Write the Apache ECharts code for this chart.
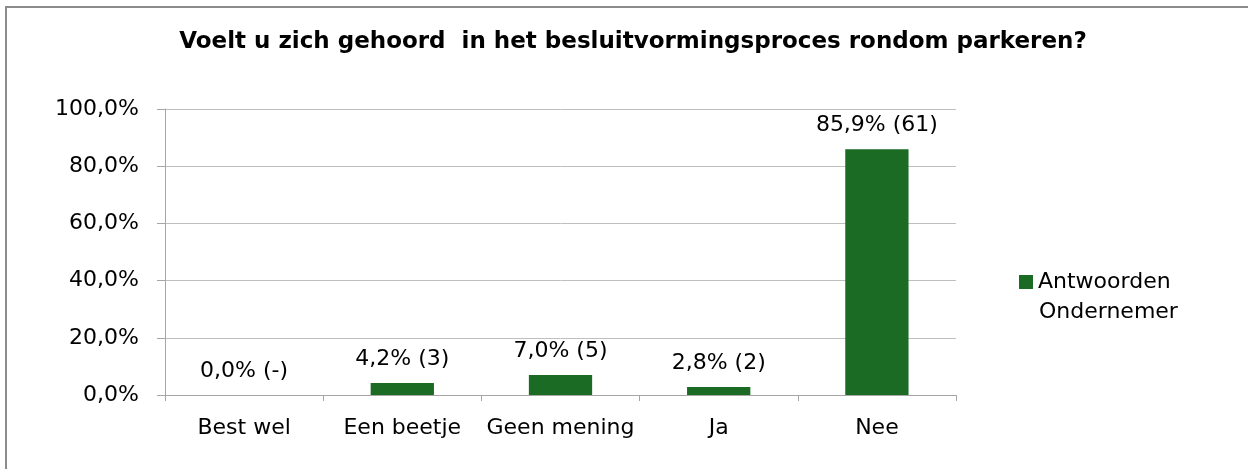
<!DOCTYPE html>
<html>
<head>
<meta charset="utf-8">
<script src="https://cdn.jsdelivr.net/npm/echarts@6/dist/echarts.min.js"></script>
<style>
  html, body { margin: 0; padding: 0; background: #fff; }
  #chart { width: 1248px; height: 469px; }
</style>
</head>
<body>
<div id="chart"></div>
<script>
// data
const categories = ['Best wel', 'Een beetje', 'Geen mening', 'Ja', 'Nee'];
const percentages = [0.0, 4.2, 7.0, 2.8, 85.9];
const counts = ['-', '3', '5', '2', '61'];
const yTicks = [0, 20, 40, 60, 80, 100];
const seriesName = 'Antwoorden Ondernemer';

const fmt = (v, d) => v.toFixed(d).replace('.', ',');
const font = 'DejaVu Sans';

var ele = document.getElementById('chart');
var myChart = echarts.init(ele, null, { renderer: 'canvas' });
var option = {
  animation: false,
  title: {
    text: 'Voelt u zich gehoord  in het besluitvormingsproces rondom parkeren?',
    left: 628,
    textAlign: 'center',
    top: 26,
    textStyle: { fontFamily: font, fontSize: 23, fontWeight: 'bold', color: '#000' }
  },
  graphic: [{
    type: 'rect',
    shape: { x: 6, y: 7, width: 1260, height: 480 },
    style: { fill: 'none', stroke: '#8c8c8c', lineWidth: 2 },
    silent: true
  }, {
    // second line of the legend entry
    type: 'text',
    left: 1039,
    top: 301,
    style: { text: 'Ondernemer', font: '22px "DejaVu Sans"', fill: '#000' },
    silent: true
  }],
  legend: {
    left: 1019,
    top: 269,
    padding: 0,
    icon: 'rect',
    itemWidth: 14,
    itemHeight: 14,
    itemGap: 6,
    formatter: n => n.split(' ')[0],
    textStyle: { fontFamily: font, fontSize: 22, color: '#000', lineHeight: 26 },
    data: [seriesName]
  },
  grid: { left: 165, right: 292, top: 109, bottom: 74, containLabel: false },
  xAxis: {
    type: 'category',
    data: categories,
    axisLine: { lineStyle: { color: '#a6a6a6', width: 1 } },
    axisTick: { show: true, length: 6, alignWithLabel: false, lineStyle: { color: '#a6a6a6' } },
    axisLabel: { fontFamily: font, fontSize: 22, color: '#000', margin: 22, interval: 0 }
  },
  yAxis: {
    type: 'value',
    min: 0,
    max: 100,
    interval: 20,
    axisLine: { show: true, lineStyle: { color: '#a6a6a6', width: 1 } },
    axisTick: { show: true, length: 8, lineStyle: { color: '#a6a6a6' } },
    splitLine: { lineStyle: { color: '#bfbfbf', width: 1 } },
    axisLabel: {
      fontFamily: font, fontSize: 22, color: '#000', margin: 26,
      formatter: v => yTicks.includes(v) ? fmt(v, 1) + '%' : ''
    }
  },
  series: [{
    name: seriesName,
    type: 'bar',
    data: percentages,
    barWidth: '40%',
    itemStyle: { color: '#1c6b24' },
    label: {
      show: true,
      position: 'top',
      distance: 13,
      fontFamily: font,
      fontSize: 22,
      color: '#000',
      formatter: p => fmt(p.value, 1) + '% (' + counts[p.dataIndex] + ')'
    }
  }]
};
myChart.setOption(option);
</script>
</body>
</html>
